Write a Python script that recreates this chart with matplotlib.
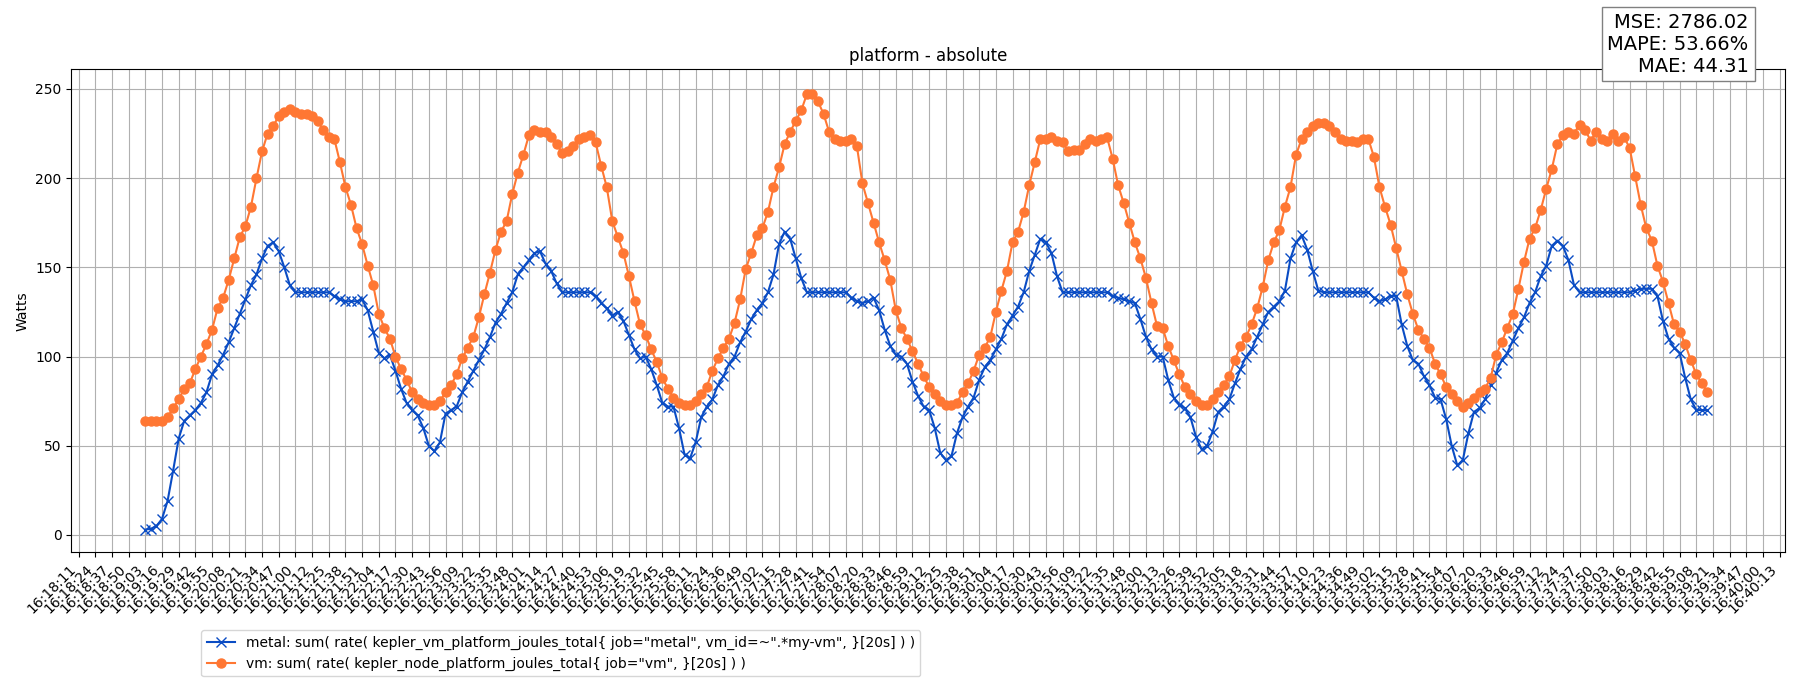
import numpy as np
import matplotlib.pyplot as plt

# tick labels on the x axis (one every 13 s)
tick_labels = [
    "16:18:11", "16:18:24", "16:18:37", "16:18:50", "16:19:03", "16:19:16", "16:19:29", "16:19:42",
    "16:19:55", "16:20:08", "16:20:21", "16:20:34", "16:20:47", "16:21:00", "16:21:12", "16:21:25",
    "16:21:38", "16:21:51", "16:22:04", "16:22:17", "16:22:30", "16:22:43", "16:22:56", "16:23:09",
    "16:23:22", "16:23:35", "16:23:48", "16:24:01", "16:24:14", "16:24:27", "16:24:40", "16:24:53",
    "16:25:06", "16:25:19", "16:25:32", "16:25:45", "16:25:58", "16:26:11", "16:26:24", "16:26:36",
    "16:26:49", "16:27:02", "16:27:15", "16:27:28", "16:27:41", "16:27:54", "16:28:07", "16:28:20",
    "16:28:33", "16:28:46", "16:28:59", "16:29:12", "16:29:25", "16:29:38", "16:29:51", "16:30:04",
    "16:30:17", "16:30:30", "16:30:43", "16:30:56", "16:31:09", "16:31:22", "16:31:35", "16:31:48",
    "16:32:00", "16:32:13", "16:32:26", "16:32:39", "16:32:52", "16:33:05", "16:33:18", "16:33:31",
    "16:33:44", "16:33:57", "16:34:10", "16:34:23", "16:34:36", "16:34:49", "16:35:02", "16:35:15",
    "16:35:28", "16:35:41", "16:35:54", "16:36:07", "16:36:20", "16:36:33", "16:36:46", "16:36:59",
    "16:37:12", "16:37:24", "16:37:37", "16:37:50", "16:38:03", "16:38:16", "16:38:29", "16:38:42",
    "16:38:55", "16:39:08", "16:39:21", "16:39:34", "16:39:47", "16:40:00", "16:40:13",
]

# samples start at the 5th tick, 3 samples per tick
first_tick = 4
samples_per_tick = 3

metal = [
    3, 3.5, 5, 9, 19, 36, 54, 64, 67, 70, 74, 80, 90, 95, 101, 108, 116, 124,
    132, 140, 146, 155, 162, 164, 159, 150, 140, 136, 136, 136, 136, 136, 136,
    136, 134, 132, 131, 131, 131, 132, 126, 114, 102, 99, 101, 92, 82, 74,
    70, 67, 60, 50, 47, 52, 68, 70, 72, 80, 86, 92, 98, 104, 111, 119, 124, 130,
    136, 146, 150, 154, 158, 159, 152, 148, 141, 136, 136, 136, 136, 136, 136,
    134, 130, 127, 123, 125, 120, 112, 104, 99, 100, 93, 84, 74, 72, 72,
    60, 45, 43, 52, 66, 72, 76, 84, 89, 96, 100, 108, 114, 121, 126, 130, 136, 146,
    163, 170, 166, 155, 144, 136, 136, 136, 136, 136, 136, 136, 136, 133, 131,
    130, 131, 133, 126, 115, 106, 101, 100, 96, 86, 78, 72, 70, 60, 46,
    42, 44, 57, 66, 72, 77, 87, 94, 98, 104, 110, 118, 123, 128, 136, 148, 157, 166,
    164, 158, 145, 136, 136, 136, 136, 136, 136, 136, 136, 136, 134, 133, 132,
    131, 130, 121, 111, 104, 100, 100, 87, 77, 73, 71, 66, 55, 48, 50,
    58, 69, 72, 76, 85, 93, 100, 104, 111, 118, 125, 128, 131, 137, 155,
    164, 168, 160, 148, 137, 136, 136, 136, 136, 136, 136, 136, 136, 136, 133,
    131, 132, 134, 134, 118, 106, 98, 96, 89, 84, 77, 76, 65, 50, 39,
    42, 57, 69, 71, 76, 84, 91, 98, 102, 109, 116, 122, 130, 136, 145,
    151, 162, 165, 162, 154, 140, 136, 136, 136, 136, 136, 136, 136, 136, 136,
    136, 137, 138, 138, 138, 134, 120, 110, 105, 102, 88, 76, 70, 70, 70,
]

vm = [
    64, 64, 64, 64, 66, 71, 76, 82, 85, 93, 100, 107, 115, 127, 133, 143, 155, 167,
    173, 184, 200, 215, 225, 229, 235, 237, 239, 237, 236, 236, 235, 232, 227,
    223, 222, 209, 195, 185, 172, 163, 151, 140, 124, 116, 110, 100, 93, 87,
    80, 76, 74, 73, 73, 75, 80, 84, 90, 99, 105, 111, 122, 135, 147, 160, 170, 176,
    191, 203, 213, 224, 227, 226, 226, 223, 219, 214, 215, 218, 222, 223, 224,
    220, 207, 195, 176, 167, 158, 145, 131, 118, 112, 104, 97, 88, 82, 77,
    74, 73, 73, 75, 79, 83, 92, 99, 105, 110, 119, 132, 149, 158, 168, 172, 181, 195,
    206, 219, 226, 232, 238, 247, 247, 243, 236, 226, 222, 221, 221, 222, 218,
    197, 186, 175, 164, 154, 143, 126, 116, 110, 103, 96, 89, 83, 79, 75,
    73, 73, 74, 80, 85, 92, 101, 105, 111, 125, 137, 148, 164, 170, 181, 196, 209, 222,
    222, 223, 221, 220, 215, 216, 216, 219, 222, 221, 222, 223, 211, 196, 186,
    175, 164, 155, 144, 130, 117, 116, 106, 98, 90, 83, 79, 75, 73, 73,
    76, 80, 84, 89, 98, 106, 111, 118, 127, 139, 154, 164, 171, 184, 195,
    213, 222, 226, 229, 231, 231, 229, 226, 222, 221, 221, 220, 222, 222, 212,
    195, 184, 174, 161, 148, 135, 124, 115, 110, 105, 96, 90, 83, 79, 75,
    72, 74, 77, 80, 82, 88, 101, 108, 116, 124, 138, 153, 166, 172, 182,
    194, 205, 219, 224, 226, 225, 230, 227, 221, 226, 222, 221, 225, 221, 223,
    217, 201, 185, 172, 165, 151, 142, 130, 118, 114, 107, 98, 90, 85, 80,
]

metal_label = 'metal: sum( rate( kepler_vm_platform_joules_total{ job="metal", vm_id=~".*my-vm", }[20s] ) )'
vm_label = 'vm: sum( rate( kepler_node_platform_joules_total{ job="vm", }[20s] ) )'
stats_text = "MSE: 2786.02\nMAPE: 53.66%\nMAE: 44.31"

x = first_tick + np.arange(len(vm)) / samples_per_tick

fig = plt.figure(figsize=(18, 7), dpi=100)
ax = fig.add_axes([0.0395, 0.211, 0.952, 0.69])

ax.plot(x, metal, color="#0a4cc4", marker="x", markersize=6.5, linewidth=1.5, label=metal_label)
ax.plot(x, vm, color="#ff7733", marker="o", markersize=6.5, linewidth=1.5, label=vm_label)

ax.set_xticks(np.arange(len(tick_labels)))
ax.set_xticklabels(tick_labels, rotation=45, ha="right")
ax.set_xlim(-0.45, 102.3)
ax.set_ylim(-9.7, 261)
ax.set_yticks([0, 50, 100, 150, 200, 250])
ax.grid(True, color="#b0b0b0")
ax.set_axisbelow(True)
ax.set_title("platform - absolute")
ax.set_ylabel("Watts")

fig.legend(loc="upper left", bbox_to_anchor=(0.108, 0.11), fontsize=10)

fig.text(0.9715, 0.982, stats_text, ha="right", va="top", fontsize=14,
         bbox=dict(boxstyle="square,pad=0.3", facecolor="white", edgecolor="#808080"))

fig.savefig("out.png")
